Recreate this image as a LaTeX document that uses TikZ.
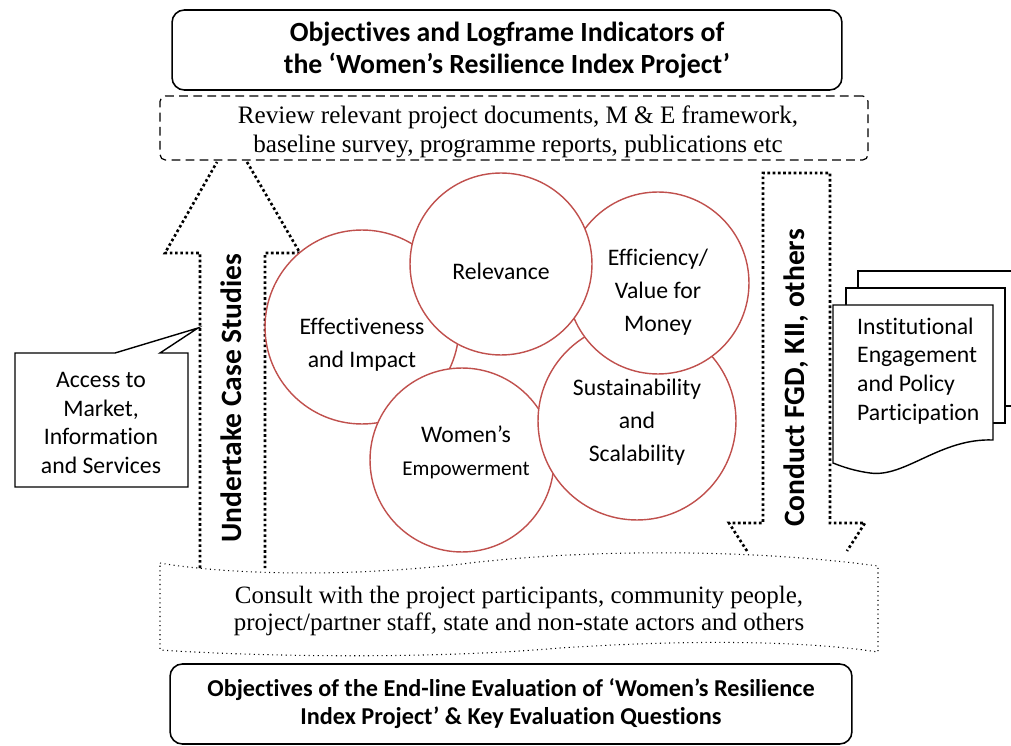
\documentclass[tikz,border=0pt]{standalone}
\usepackage{fontspec}
\setmainfont{Liberation Serif}
\setsansfont[Ligatures=NoCommon]{Carlito}
\definecolor{ringred}{HTML}{C0504D}
\begin{document}
\begin{tikzpicture}[
  x=0.02cm, y=-0.02cm,
  headbox/.style={draw, rounded corners=7pt, line width=0.9pt, align=center, inner sep=0pt,
    font=\sffamily\bfseries\fontsize{13.8}{16}\selectfont},
  notetext/.style={align=center, font=\rmfamily\fontsize{14.3}{16.2}\selectfont},
  ring/.style={circle, draw=ringred, fill=white, line width=0.8pt, inner sep=0pt},
  ringtext/.style={align=center, font=\sffamily\fontsize{13.5}{18.7}\selectfont},
  blockarrow/.style={line width=1.5pt, dash pattern=on 1.5pt off 1.5pt},
  plaintext/.style={align=center, font=\sffamily\fontsize{13.5}{16.4}\selectfont},
  sheet/.style={draw, fill=white, line width=0.8pt},
  vlabel/.style={rotate=90, font=\sffamily\bfseries\fontsize{16.8}{19}\selectfont}
]
\useasboundingbox (0,0) rectangle (1011,746);

% top and bottom frames
\node[headbox, minimum width=13.4cm, minimum height=1.6cm,
  font=\sffamily\bfseries\fontsize{15.8}{18.1}\selectfont] (logframe) at (507,50)
  {Objectives and Logframe Indicators of\\the `Women’s Resilience Index Project’};
\node[headbox, minimum width=13.64cm, minimum height=1.6cm] (endline) at (511,704)
  {Objectives of the End-line Evaluation of `Women’s Resilience\\Index Project’ \& Key Evaluation Questions};

% review documents
\node[draw, dashed, dash pattern=on 5pt off 3pt, line width=0.7pt, rounded corners=3pt,
  minimum width=14.16cm, minimum height=1.28cm] (review) at (514,128) {};
\node[notetext] at (518,132) {Review relevant project documents, M \& E framework,\\baseline survey, programme reports, publications etc};

% consult wave
\draw[dotted, line width=0.6pt] (160,563) .. controls (210,572) and (330,580) .. (470,563)
  .. controls (600,548) and (760,550) .. (878,566) -- (878,652)
  .. controls (800,640) and (680,640) .. (560,648)
  .. controls (420,660) and (250,656) .. (160,650) -- cycle;
\node[notetext, font=\rmfamily\fontsize{14.2}{15.9}\selectfont] (consult) at (519,611)
  {Consult with the project participants, community people,\\project/partner staff, state and non-state actors and others};

% up arrow: case studies
\draw[blockarrow] (200,568) -- (200,253) -- (165,253) -- (217,162);
\draw[blockarrow] (247,162) -- (300,253) -- (265,253) -- (265,568);
\node[vlabel] (casestudy) at (231,398) {Undertake Case Studies};

% down arrow: FGD, KII
\draw[blockarrow] (747,551) -- (729,523) -- (763,523) -- (763,173) -- (830,173)
  -- (830,523) -- (865,523) -- (847,551);
\node[vlabel] (fgd) at (796,378) {Conduct FGD, KII, others};

% callout
\draw[line width=0.8pt] (15,353) -- (115,353) -- (198,328) -- (160,353) -- (188,353)
  -- (188,487) -- (15,487) -- cycle;
\node[plaintext] (access) at (101,423) {Access to\\Market,\\Information\\and Services};

% document stack
\draw[sheet] (858,271) rectangle (1030,406);
\draw[sheet] (846,288) rectangle (1005,423);
\draw[sheet] (833,305) -- (993,305) -- (993,440)
  .. controls (940,438) and (905,478) .. (870,473)
  .. controls (855,471) and (843,467) .. (833,463) -- cycle;
\node[plaintext, align=left, anchor=west] (policy) at (851,371)
  {Institutional\\Engagement\\and Policy\\Participation};

% evaluation criteria
\node[ring, minimum size=3.88cm] (effect) at (362,327) {};
\node[ring, minimum size=3.68cm] (women) at (462,460) {};
\node[ring, minimum size=3.96cm] (sustain) at (637,421) {};
\node[ring, minimum size=3.64cm] (effic) at (658,283) {};
\node[ring, minimum size=3.64cm] (relev) at (501,264) {};
\node[ringtext] at (362,345) {Effectiveness\\and Impact};
\node[ringtext] at (501,271) {Relevance};
\node[ringtext] at (658,292) {Efficiency/\\Value for\\Money};
\node[ringtext] at (637,422) {Sustainability\\and\\Scalability};
\node[ringtext] at (466,452) {Women’s\\{\fontsize{12}{14}\selectfont Empowerment}};
\end{tikzpicture}
\end{document}
